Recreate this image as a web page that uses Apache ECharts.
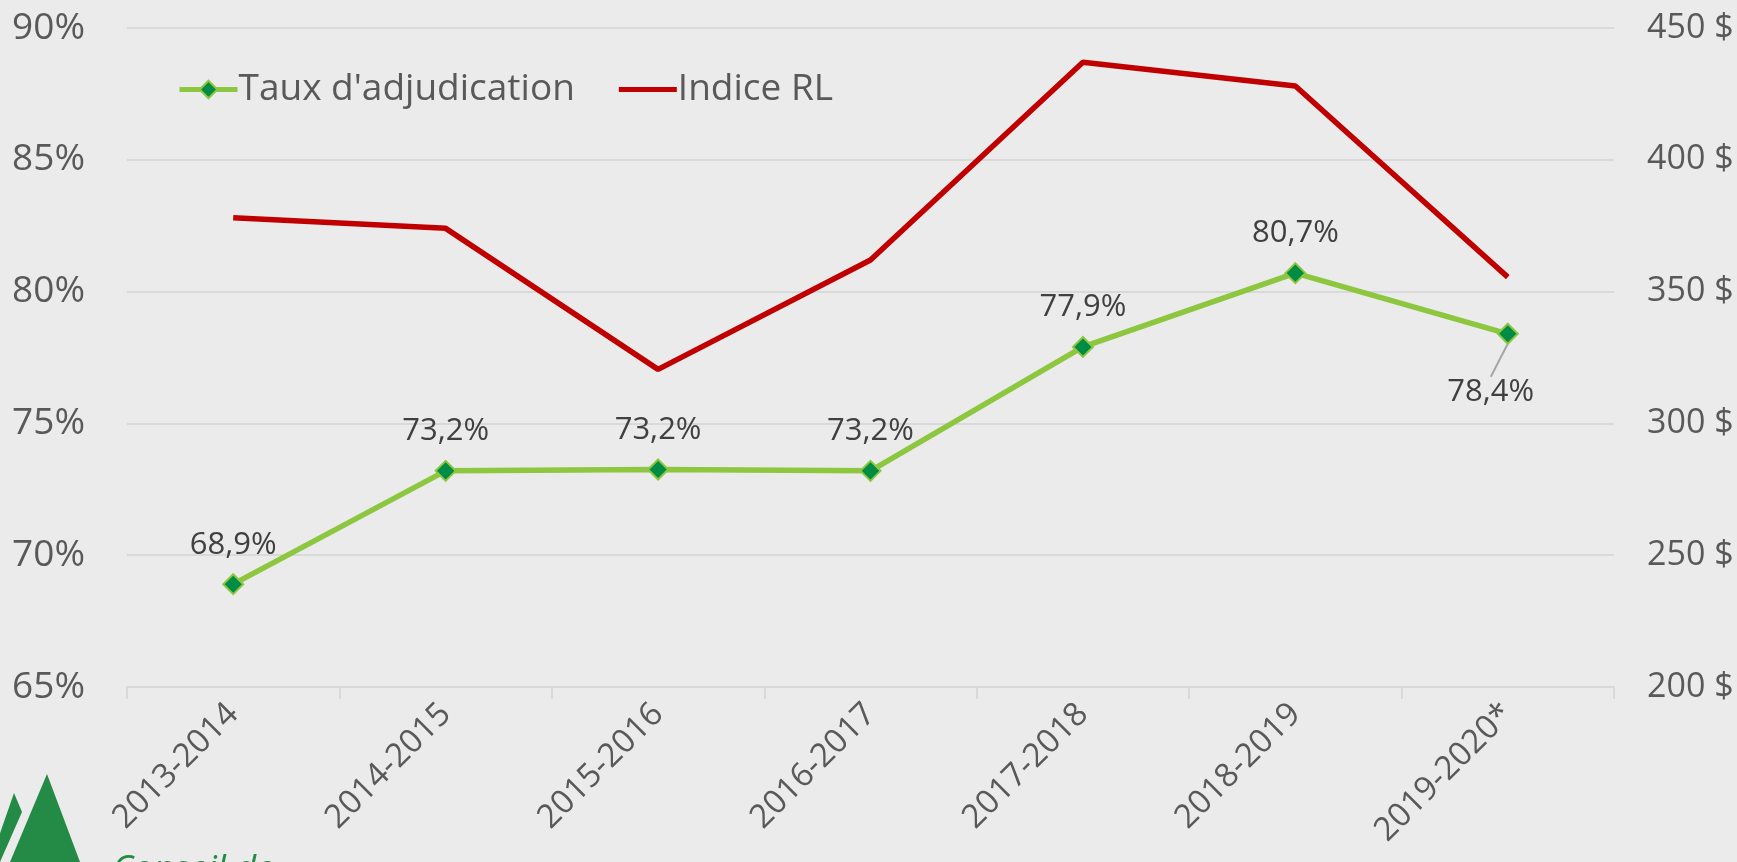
<!DOCTYPE html>
<html>
<head>
<meta charset="utf-8">
<style>
  html, body { margin: 0; padding: 0; background: #EBEBEB; }
  #chart { width: 1737px; height: 862px; }
</style>
<script src="https://cdn.jsdelivr.net/npm/echarts@6/dist/echarts.min.js"></script>
</head>
<body>
<div id="chart"></div>
<script>
const categories = ["2013-2014", "2014-2015", "2015-2016", "2016-2017", "2017-2018", "2018-2019", "2019-2020*"];
const tauxAdjudication = [68.9, 73.2, 73.25, 73.2, 77.9, 80.7, 78.4];
const tauxLabels = ["68,9%", "73,2%", "73,2%", "73,2%", "77,9%", "80,7%", "78,4%"];
const indiceRL = [378, 374, 320.5, 362, 437, 428, 355.5];

const font = "'Open Sans', sans-serif";
const chart = echarts.init(document.getElementById("chart"));

// le dernier point a son étiquette sous le marqueur, avec un trait de rappel
const tauxData = tauxAdjudication.map((v, i) =>
  i === tauxAdjudication.length - 1
    ? { value: v, labelLine: { show: true, lineStyle: { color: "#A6A6A6", width: 2 } } }
    : v
);

const option = {
  backgroundColor: "#EBEBEB",
  textStyle: { fontFamily: font },
  grid: { left: 127, right: 123, top: 28, bottom: 175 },
  legend: {
    left: 172,
    top: 66,
    itemWidth: 58,
    itemHeight: 22,
    itemGap: 44,
    lineStyle: { width: 5 },
    textStyle: { fontSize: 37, color: "#595959", fontFamily: font, padding: [0, 0, 0, -4] },
    data: [
      { name: "Taux d'adjudication" },
      { name: "Indice RL", icon: "path://M0,0 L100,0 L100,9 L0,9 Z" },
    ],
  },
  xAxis: {
    type: "category",
    data: categories,
    boundaryGap: true,
    axisLine: { lineStyle: { color: "#D9D9D9", width: 2 } },
    axisTick: { show: true, length: 12, lineStyle: { color: "#D9D9D9", width: 2 } },
    axisLabel: { rotate: 45, fontSize: 33, color: "#595959", margin: 22, interval: 0 },
  },
  yAxis: [
    {
      type: "value",
      min: 65,
      max: 90,
      interval: 5,
      axisLabel: { formatter: "{value}%", fontSize: 37, color: "#595959", margin: 42 },
      splitLine: { lineStyle: { color: "#D9D9D9", width: 2 } },
      axisLine: { show: false },
      axisTick: { show: false },
    },
    {
      type: "value",
      min: 200,
      max: 450,
      interval: 50,
      position: "right",
      axisLabel: { formatter: "{value} $", fontSize: 34, color: "#595959", margin: 33 },
      splitLine: { show: false },
      axisLine: { show: false },
      axisTick: { show: false },
    },
  ],
  series: [
    {
      name: "Indice RL",
      type: "line",
      yAxisIndex: 1,
      data: indiceRL,
      symbol: "none",
      lineStyle: { color: "#C00000", width: 5.5 },
      itemStyle: { color: "#C00000" },
    },
    {
      name: "Taux d'adjudication",
      type: "line",
      yAxisIndex: 0,
      data: tauxData,
      symbol: "diamond",
      symbolSize: 20,
      lineStyle: { color: "#8DC63F", width: 5.5 },
      itemStyle: { color: "#008C45", borderColor: "#8DC63F", borderWidth: 2 },
      label: {
        show: true,
        position: "top",
        distance: 13,
        fontSize: 31,
        color: "#404040",
        formatter: (p) => tauxLabels[p.dataIndex],
      },
      labelLine: { show: false },
      labelLayout: (params) => {
        if (params.dataIndex === 6) {
          return { dx: -17, dy: 98 };
        }
        return {};
      },
      z: 3,
    },
  ],
  graphic: [
    {
      type: "polygon",
      shape: { points: [[14, 793], [22, 812], [0, 862], [-10, 862]] },
      style: { fill: "#238B45" },
    },
    {
      type: "polygon",
      shape: { points: [[47, 774], [80, 862], [10, 862]] },
      style: { fill: "#238B45" },
    },
    {
      type: "text",
      left: 112,
      top: 853,
      style: { text: "Conseil de", fontSize: 36, fontStyle: "italic", fill: "#238B45", fontFamily: font },
    },
  ],
};

chart.setOption(option);
</script>
</body>
</html>
